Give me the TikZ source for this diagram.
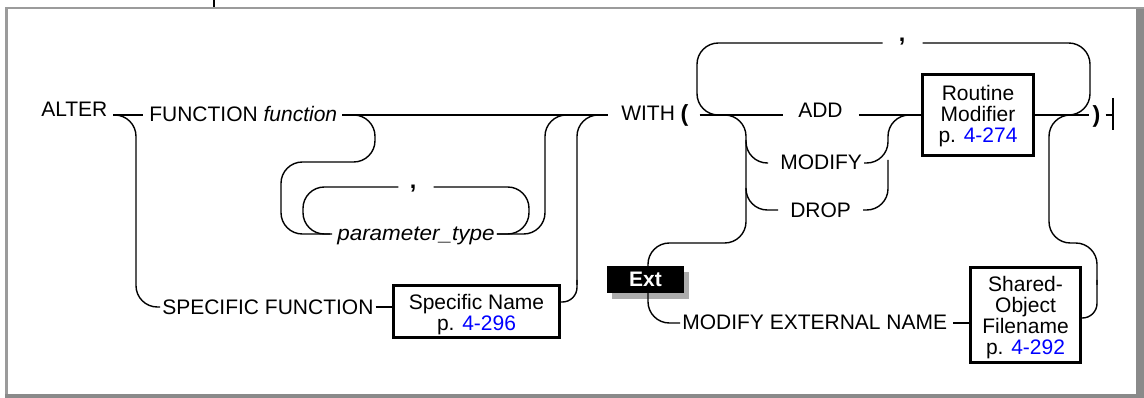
\documentclass[tikz,border=0pt]{standalone}
\usepackage{graphicx}
\usepackage{fontspec}
\setmainfont{Liberation Sans}
\usetikzlibrary{calc}
\definecolor{linkblue}{RGB}{0,0,255}
\definecolor{framegray}{RGB}{155,155,155}
\definecolor{banddark}{RGB}{138,138,138}
\definecolor{shadowgray}{RGB}{172,172,172}
\tikzset{
  rail/.style={line width=1.05pt, rounded corners=16pt},
  tightrail/.style={line width=1.05pt, rounded corners=11pt},
  straight/.style={line width=1.05pt},
  kw/.style={anchor=base west, inner sep=0pt, font=\fontsize{15.75}{15.75}\selectfont},
  sym/.style={anchor=base, inner sep=0pt, font=\fontsize{17.5}{17.5}\selectfont\bfseries},
  refbox/.style={draw, line width=2pt, inner sep=0pt},
  reftext/.style={align=center, inner sep=0pt, font=\fontsize{15.75}{15.75}\selectfont},
}
\begin{document}
\begin{tikzpicture}[x=0.75pt,y=-0.75pt]
\useasboundingbox (0,0) rectangle (1144,398);

% page frame
\fill[framegray] (5,7) rectangle (1144,9.5);
\fill[framegray] (5,7) rectangle (8,398);
\fill[banddark] (1136,9) rectangle (1144,398);
\fill[banddark] (5,394) rectangle (1144,398);
\draw[line width=0.8pt] (214,0) -- (214,7);

% keywords and symbols
\node[kw] (alter) at (41,117) {ALTER};
\node[kw] (func) at (149,122) {FUNCTION \textit{function}};
\node[kw] (ptype) at (337,241) {\scalebox{1.07}[1]{\textit{parameter\_type}}};
\node[sym] (pcomma) at (413,189) {,};
\node[kw] (spec) at (162,315) {SPECIFIC FUNCTION};
\node[kw] (with) at (621,121) {WITH};
\node[sym] (lpar) at (684.5,122) {(};
\node[sym] (wcomma) at (902,42) {,};
\node[kw] (add) at (798,118) {ADD};
\node[kw] (modify) at (780,170) {MODIFY};
\node[kw] (drop) at (790,218) {DROP};
\node[sym] (rpar) at (1096.5,123) {)};
\node[kw] (modext) at (682,330) {MODIFY EXTERNAL NAME};

% reference boxes
\node[refbox, minimum width=124.8pt, minimum height=39.3pt] (specbox) at (476.5,311.5) {};
\node[reftext] at (476.5,314.6) {Specific Name\\p. \textcolor{linkblue}{4-296}};
\node[refbox, minimum width=83.5pt, minimum height=61pt] (routine) at (978,115) {};
\node[reftext] at (978,115.7) {Routine\\Modifier\\p. \textcolor{linkblue}{4-274}};
\node[refbox, minimum width=82.8pt, minimum height=71.5pt] (shared) at (1025.5,315) {};
\node[reftext] at (1025.5,318) {Shared-\\Object\\Filename\\p. \textcolor{linkblue}{4-292}};

% junction points on the main line
\coordinate (afterfunc) at ($(func.east |- 0,115)+(5,0)$);
\coordinate (afterptype) at ($(ptype.east |- 0,234)+(2,0)$);

% Ext marker shadow
\fill[shadowgray] (612,272) rectangle (689,299);

% main line
\draw[straight] (113,115) -- (143,115);
\draw[straight] (afterfunc) -- ($(with.west |- 0,115)+(-13,0)$);
\draw[straight] ($(lpar.east |- 0,115)+(11,0)$) -- ($(add.west |- 0,115)+(-15,0)$);
\draw[straight] ($(add.east |- 0,115)+(16,0)$) -- (routine.west);
\draw[straight] (routine.east) -- ($(rpar.west |- 0,115)+(-3,0)$);
\draw[straight] ($(rpar.east |- 0,115)+(5,0)$) -- (1113,115);
\draw[straight] (1113,98) -- (1113,130);

% SPECIFIC FUNCTION branch
\draw[rail] (113,115) -- (136,115) -- (136,307) -- ($(spec.west |- 0,307)+(-2,0)$);
\draw[straight] ($(spec.east |- 0,307)+(2,0)$) -- (specbox.west |- 0,307);
\draw[tightrail] (specbox.east |- 0,302) -- (577,302) -- (577,280);
\draw[rail] (577,285) -- (577,115) -- (600,115);

% optional parameter list
\draw[rail] (afterfunc) -- (375,115) -- (375,162) -- (281,162) -- (281,234) -- ($(ptype.west |- 0,234)+(-5,0)$);
\draw[rail] (afterptype) -- (545,234) -- (545,115) -- (570,115);
\draw[rail] ($(pcomma.west |- 0,187)+(-11,0)$) -- (303,187) -- (303,234) -- (330,234);
\draw[rail] ($(pcomma.east |- 0,187)+(17,0)$) -- (529,187) -- (529,234) -- (afterptype);

% repetition loop of the WITH list
\draw[rail] ($(wcomma.west |- 0,43)+(-16,0)$) -- (697,43) -- (697,115) -- (725,115);
\draw[rail] ($(wcomma.east |- 0,43)+(17,0)$) -- (1090,43) -- (1090,115) -- (1062,115);

% ADD / MODIFY / DROP choice and the external-name branch
\draw[rail] (720,115) -- (746,115) -- (746,243) -- (648,243) -- (648,323) -- ($(modext.west |- 0,323)+(-2,0)$);
\draw[rail] (746,140) -- (746,163) -- ($(modify.west |- 0,163)+(-12,0)$);
\draw[rail] ($(modify.east |- 0,163)+(2,0)$) -- (888,163) -- (888,115) -- (921,115);
\draw[rail] (746,188) -- (746,210) -- ($(drop.west |- 0,210)+(-12,0)$);
\draw[rail] ($(drop.east |- 0,210)+(12,0)$) -- (888,210) -- (888,160);
\draw[straight] ($(modext.east |- 0,323)+(6,0)$) -- (shared.west |- 0,323);
\draw[tightrail] (shared.east |- 0,318) -- (1097,318) -- (1097,280);
\draw[rail] (1097,285) -- (1097,243) -- (1049,243) -- (1049,115) -- (1072,115);

% Ext marker
\node[fill=black, text=white, inner sep=0pt, minimum width=57.75pt, minimum height=20.25pt,
      font=\fontsize{15.75}{15.75}\selectfont\bfseries] (ext) at (645.5,279.5) {Ext};
\end{tikzpicture}
\end{document}
